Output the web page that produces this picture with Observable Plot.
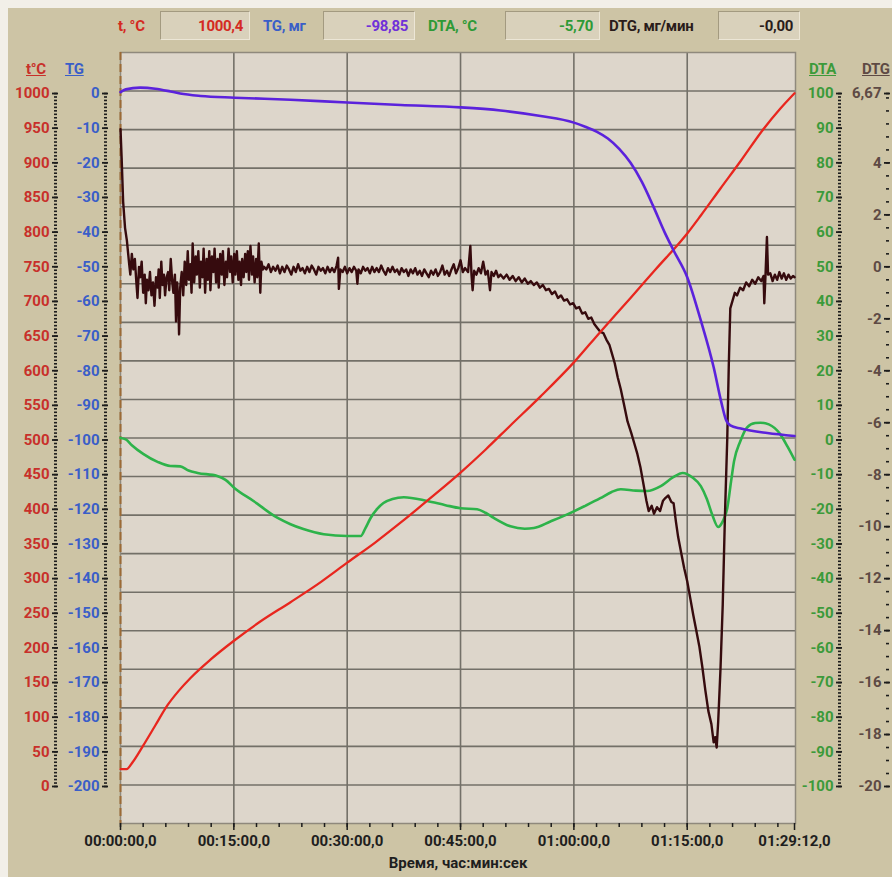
<!DOCTYPE html>
<html><head><meta charset="utf-8">
<script src="https://cdn.jsdelivr.net/npm/d3@7"></script>
<script src="https://cdn.jsdelivr.net/npm/@observablehq/plot@0.6"></script>
<style>
body{margin:0;background:#f2efe8;width:892px;height:877px;overflow:hidden;font-family:Roboto,"Open Sans",sans-serif;position:relative;}
#panel{position:absolute;left:8px;top:8px;width:884px;height:869px;background:#cdc4a5;}
#chart{position:absolute;left:0;top:52px;}
.hdr{position:absolute;top:12px;height:28px;line-height:28px;font-weight:bold;font-size:15px;letter-spacing:-0.3px;}
.box{position:absolute;top:11px;height:29px;line-height:29px;background:#d9d1bb;border:1px solid;border-color:#a39a80 #ece6d6 #ece6d6 #a39a80;text-align:right;padding-right:6px;box-sizing:border-box;font-weight:bold;font-size:15px;letter-spacing:-0.3px;}
.ax{position:absolute;top:60px;font-weight:bold;font-size:15px;text-decoration:underline;letter-spacing:-0.3px;}
</style></head>
<body>
<div id="panel"></div>
<div class="hdr" style="left:118px;color:#d42a22">t, °C</div>
<div class="box" style="left:160px;width:90px;color:#d42a22">1000,4</div>
<div class="hdr" style="left:263px;color:#3a5ec8">TG, мг</div>
<div class="box" style="left:323px;width:92px;color:#7030d8">-98,85</div>
<div class="hdr" style="left:428px;color:#2e9a36">DTA, °C</div>
<div class="box" style="left:505px;width:95px;color:#2e9a36">-5,70</div>
<div class="hdr" style="left:609px;color:#2a1c1a">DTG, мг/мин</div>
<div class="box" style="left:718px;width:82px;color:#2a1c1a">-0,00</div>
<div class="ax" style="left:26px;color:#c8302a">t°C</div>
<div class="ax" style="left:65px;color:#3a5ec8">TG</div>
<div class="ax" style="left:809px;color:#3c9a3a">DTA</div>
<div class="ax" style="left:862px;color:#5e4a44">DTG</div>
<div id="chart"></div>
<script>
// ---- data (time in minutes) ----
const xTickValues=[0,15,30,45,60,75,89.2];
const xTickLabels=["00:00:00,0","00:15:00,0","00:30:00,0","00:45:00,0","01:00:00,0","01:15:00,0","01:29:12,0"];
const tempTicks=d3.range(0,1001,50);
const tgTicks=d3.range(-200,1,10);
const dtaTicks=d3.range(-100,101,10);
const dtgTicks=[-20,-18,-16,-14,-12,-10,-8,-6,-4,-2,0,2,4,6.67];

const tempSeries=[[0,25],[0.8,25],[1.6,35],[3.0,59],[4.6,88],[6.2,117],[7.7,138],[9.3,157],[11.9,183],[15.1,211],[18.5,238],[22.5,266],[26.5,295],[30.0,323],[33.7,352],[37.1,381],[41.0,416],[45.0,453],[48.3,486],[51.6,521],[55.6,563],[60.0,612],[63.5,656],[67.5,705],[70.8,746],[75.0,798],[76.8,824],[79.4,863],[82.1,903],[84.9,946],[87.3,978],[89.2,1000.4]];

const tgSeries=[[0,0.4],[0.7,1.2],[2.6,1.7],[4.6,1.4],[6.6,0.6],[7.9,0.0],[10.6,-0.7],[15.1,-1.2],[22.5,-1.8],[30.0,-2.6],[37.1,-3.3],[45.0,-4.0],[50.3,-4.9],[55.6,-6.5],[60.0,-8.4],[61.5,-9.6],[63.0,-11.0],[64.5,-13.0],[66.0,-16.0],[67.5,-20.0],[69.0,-25.5],[70.5,-32.5],[72.0,-40.0],[73.2,-45.3],[75.0,-53],[76.8,-65.5],[78.5,-79],[79.5,-89],[80.1,-94.0],[80.7,-95.8],[82.1,-96.7],[85.6,-98],[89.2,-98.85]];

const dtaSeries=[[0,0.6],[0.7,0.2],[1.5,-1.5],[3.0,-4],[4.9,-6.3],[6.6,-7.5],[7.9,-7.6],[9.0,-8.8],[10.2,-9.5],[12.8,-10.4],[13.9,-11.5],[15.1,-13.9],[17.6,-17.6],[20.8,-22.5],[22.5,-24.3],[24.2,-25.7],[26.9,-27.2],[30.0,-27.7],[31.8,-27.7],[32.4,-25.5],[33.1,-22.5],[34.0,-19.8],[34.8,-18.2],[36.0,-17.0],[37.5,-16.5],[40.6,-17.6],[43.0,-18.8],[45.0,-19.7],[47.2,-20.0],[48.3,-21.0],[49.4,-22.5],[51.6,-24.9],[53.5,-25.6],[54.7,-25.4],[56.9,-23.5],[59.2,-21.4],[61.5,-19.0],[63.5,-16.8],[65.0,-15.0],[66.2,-14.2],[68.2,-14.6],[69.7,-14.7],[71.5,-13.3],[73.1,-10.8],[74.4,-9.5],[75.7,-10.8],[76.8,-13.3],[77.6,-17.0],[78.3,-21.5],[79.1,-25.1],[79.7,-23.5],[80.3,-19.7],[80.8,-12.0],[81.2,-6.1],[82.0,-0.5],[82.9,3.6],[84.0,4.9],[84.7,5.0],[85.8,4.5],[87.3,1.7],[88.3,-2.0],[89.2,-5.7]];

const dtgSeries=[[0,5.3],[0.15,4.2],[0.35,2.5],[0.6,1.5],[0.85,1.0],[1.0,0.55],[1.15,0.1],
[1.3,-0.3],[1.5,0.5],[1.7,-0.1],[1.9,0.3],[2.1,-0.6],[2.25,-1.2],[2.45,0.0],[2.6,-0.4],[2.8,0.2],[3.0,-1.0],[3.2,-0.3],[3.35,-1.4],[3.5,-0.5],[3.7,-0.9],[3.9,-0.2],[4.1,-1.1],[4.3,-0.6],[4.5,-1.5],[4.7,-0.4],[4.9,-0.8],[5.05,-0.1],[5.2,-1.2],[5.4,0.2],[5.55,-0.7],[5.75,-0.3],[5.9,-1.1],[6.1,-0.4],[6.3,-0.2],[6.45,-0.9],[6.65,0.3],[6.85,-0.6],[7.0,-1.0],[7.2,-0.3],[7.35,-2.1],[7.5,-0.6],[7.65,-1.3],[7.75,-2.6],[7.9,-0.8],[8.1,-0.2],[8.3,-1.1],[8.5,0.2],[8.7,-0.7],[8.9,0.6],[9.05,-0.5],[9.25,0.1],[9.4,-1.0],[9.55,0.9],[9.75,-0.6],[9.95,0.4],[10.1,-0.3],[10.3,0.6],[10.5,-0.8],[10.65,0.2],[10.85,-0.4],[11.0,0.7],[11.2,-1.0],[11.4,0.3],[11.55,-0.5],[11.75,0.6],[11.9,-0.9],[12.1,0.4],[12.3,-0.2],[12.45,0.7],[12.65,-0.6],[12.85,0.3],[13.0,-0.8],[13.2,0.5],[13.4,-0.3],[13.55,0.6],[13.75,-0.7],[13.95,0.2],[14.1,-0.4],[14.3,0.7],[14.5,-0.2],[14.65,0.4],[14.85,-0.6],[15.05,0.5],[15.2,-0.3],[15.4,0.6],[15.6,-0.5],[15.75,0.2],[15.95,-0.7],[16.1,0.3],[16.3,-0.4],[16.5,0.5],[16.65,-0.2],[16.85,0.6],[17.0,-0.5],[17.2,0.8],[17.4,-0.3],[17.55,0.4],[17.75,-0.6],[17.95,0.3],[18.1,-0.4],[18.3,0.9],[18.5,-1.0],[18.65,0.2],[18.85,-0.1],[19.0,0.0],
[19.3,-0.1],[19.6,0.1],[19.9,-0.2],[20.2,0.0],[20.5,-0.15],[20.8,0.05],[21.1,-0.25],[21.4,0.0],[21.7,-0.2],[22.0,0.05],[22.3,-0.1],[22.6,-0.3],[22.9,0.0],[23.2,-0.2],[23.5,0.1],[23.8,-0.15],[24.1,-0.05],[24.4,-0.25],[24.7,0.0],[25.0,-0.2],[25.3,0.05],[25.6,-0.1],[25.9,-0.3],[26.2,0.0],[26.5,-0.15],[26.8,-0.05],[27.1,-0.25],[27.4,0.0],[27.7,-0.2],[28.0,-0.05],[28.3,-0.2],[28.6,0.05],[28.8,0.35],[28.9,-0.85],[29.1,-0.1],[29.4,-0.2],[29.7,0.0],[30.0,-0.25],[30.3,-0.05],[30.6,-0.2],[30.9,0.0],[31.2,-0.15],[31.35,-0.65],[31.5,-0.1],[31.8,-0.25],[32.1,0.0],[32.4,-0.15],[32.7,-0.05],[33.0,-0.25],[33.3,0.0],[33.6,-0.2],[33.9,-0.05],[34.2,-0.2],[34.5,0.05],[34.8,-0.15],[35.1,-0.3],[35.4,-0.05],[35.7,-0.2],[36.0,0.0],[36.3,-0.2],[36.6,-0.1],[36.9,-0.3],[37.2,-0.05],[37.5,-0.2],[37.8,-0.1],[38.1,-0.35],[38.4,-0.1],[38.7,-0.25],[39.0,-0.05],[39.3,-0.3],[39.6,-0.15],[39.9,-0.35],[40.2,-0.1],[40.5,-0.25],[40.8,-0.4],[41.1,-0.15],[41.4,-0.3],[41.7,-0.1],[42.0,-0.35],[42.3,-0.2],[42.6,0.05],[42.9,-0.3],[43.2,-0.15],[43.5,-0.35],[43.8,-0.1],[44.1,0.1],[44.4,-0.25],[44.7,-0.05],[45.0,0.25],[45.3,-0.2],[45.6,-0.05],[46.0,-0.2],[46.3,0.8],[46.45,-0.3],[46.6,-0.9],[46.8,-0.15],[47.1,-0.3],[47.4,-0.05],[47.7,-0.25],[48.0,0.2],[48.3,-0.3],[48.6,-0.15],[48.9,-0.9],[49.1,-0.2],[49.4,-0.35],[49.7,-0.15],[50.0,-0.4],[50.3,-0.3],
[50.7,-0.45],[51.1,-0.3],[51.5,-0.5],[51.9,-0.35],[52.3,-0.55],[52.7,-0.4],[53.1,-0.6],[53.5,-0.45],[53.9,-0.65],[54.3,-0.55],[54.7,-0.7],[55.1,-0.6],[55.5,-0.8],[55.9,-0.7],[56.3,-0.9],[56.7,-0.85],[57.1,-1.05],[57.5,-0.95],[57.9,-1.2],[58.3,-1.1],[58.7,-1.3],[59.1,-1.25],[59.5,-1.45],[59.9,-1.4],[60.3,-1.6],[60.7,-1.55],[61.1,-1.8],[61.5,-1.75],[61.9,-2.0],[62.3,-1.95],[62.7,-2.2],[63.1,-2.35],[63.5,-2.5],[63.9,-2.55],[64.3,-2.8],[64.7,-3.0],[65.0,-3.3],[65.4,-3.7],[65.8,-4.25],[66.2,-4.7],[66.6,-5.25],[67.1,-5.95],[67.6,-6.4],[68.0,-6.8],[68.4,-7.2],[68.8,-7.7],[69.2,-8.35],[69.6,-9.0],[69.9,-9.4],[70.3,-9.2],[70.6,-9.5],[71.0,-9.25],[71.4,-9.4],[71.8,-9.0],[72.1,-8.9],[72.5,-8.8],[72.9,-9.05],[73.2,-9.1],[73.5,-9.8],[73.8,-10.4],[74.2,-11.0],[74.6,-11.6],[75.0,-12.1],[75.4,-12.75],[75.8,-13.4],[76.2,-14.0],[76.6,-14.6],[77.0,-15.4],[77.4,-16.3],[77.8,-17.1],[78.2,-17.6],[78.5,-18.3],[78.7,-18.1],[78.9,-18.5],[79.1,-17.5],[79.4,-15.5],[79.7,-13.0],[80.0,-9.5],[80.3,-6.6],[80.5,-3.8],[80.7,-1.6],[81.0,-1.3],[81.3,-1.0],[81.6,-1.1],[82.0,-0.8],[82.4,-0.9],[82.8,-0.6],[83.2,-0.75],[83.6,-0.5],[84.0,-0.65],[84.4,-0.4],[84.8,-0.55],[85.1,-0.35],[85.2,-1.4],[85.35,-0.4],[85.55,1.15],[85.7,-0.3],[86.0,-0.25],[86.3,-0.55],[86.6,-0.3],[86.9,-0.5],[87.2,-0.2],[87.5,-0.45],[87.8,-0.25],[88.1,-0.5],[88.4,-0.3],[88.7,-0.45],[89.0,-0.35],[89.2,-0.4]];

// ---- scales: everything is drawn on the temperature scale ----
const tgToT=v=>(v+200)*5, tToTg=t=>t/5-200;
const dtaToT=v=>(v+100)*5, tToDta=t=>t/5-100;
const dtgToT=v=>(v+20)*1000/26.67, tToDtg=t=>t*26.67/1000-20;
const yDomain=[-53.4,1059.2];
const xDomain=[0,89.33];
const fmtNum=v=>{const r=Math.round(v*100)/100;return String(r).replace(".",",");};

const font={fontSize:15,fontWeight:"bold"};
function yAxisSet(major,minor,toT,fromT,dx,color){
  return [
    Plot.axisY(minor.map(toT),{anchor:"left",dx:dx-1,tickSize:3,text:null,stroke:"#1c1c1c",strokeWidth:1.6,label:null}),
    Plot.axisY(major.map(toT),{anchor:"left",dx:dx,tickSize:6,text:null,stroke:"#1c1c1c",strokeWidth:1.8,label:null}),
    Plot.axisY(major.map(toT),{anchor:"left",dx:dx,tickSize:0,tickPadding:9,tickFormat:t=>fmtNum(fromT(t)),fill:color,label:null,...font})
  ];
}
const hGrid=d3.range(1,20).map(i=>yDomain[1]-i*(yDomain[1]-yDomain[0])/20);

const chart=Plot.plot({
  width:892,height:825,
  marginLeft:120,marginRight:97,marginTop:0,marginBottom:54,
  x:{domain:xDomain},
  y:{domain:yDomain},
  style:{background:"transparent",fontFamily:"Roboto, 'Open Sans', sans-serif",overflow:"visible"},
  marks:[
    Plot.frame({fill:"#ddd6cb",stroke:"none"}),
    Plot.ruleY(hGrid,{stroke:"#737068",strokeWidth:1.6}),
    Plot.ruleX([15,30,45,60,75],{stroke:"#737068",strokeWidth:1.6}),
    Plot.frame({stroke:"#8f897c",strokeWidth:1.5}),
    Plot.ruleX([0],{stroke:"#9c6a35",strokeWidth:2,strokeDasharray:"8,4"}),
    Plot.line(dtaSeries,{x:d=>d[0],y:d=>dtaToT(d[1]),stroke:"#2db34a",strokeWidth:2.6,curve:"monotone-x"}),
    Plot.line(dtgSeries,{x:d=>d[0],y:d=>dtgToT(d[1]),stroke:"#360b0e",strokeWidth:2.4}),
    Plot.line(tempSeries,{x:d=>d[0],y:d=>d[1],stroke:"#e8261e",strokeWidth:2.3,curve:"monotone-x"}),
    Plot.line(tgSeries,{x:d=>d[0],y:d=>tgToT(d[1]),stroke:"#5b22dc",strokeWidth:2.6,curve:"monotone-x"}),
    ...yAxisSet(tempTicks,d3.range(0,1001,5),t=>t,t=>t,-62,"#c8302a"),
    ...yAxisSet(tgTicks,d3.range(-200,1,1),tgToT,tToTg,-12,"#3a5ec8"),
    ...yAxisSet(dtaTicks,d3.range(-100,101,1),dtaToT,tToDta,722,"#3c9a3a"),
    ...yAxisSet(dtgTicks,d3.range(-20,6.6,0.5).concat([6.67]),dtgToT,tToDtg,770,"#5e4a44"),
    Plot.axisX(d3.range(0,89.2,3),{anchor:"bottom",tickSize:4,text:null,stroke:"#1c1c1c",strokeWidth:1.5,label:null}),
    Plot.axisX(xTickValues,{anchor:"bottom",tickSize:7,tickPadding:5,stroke:"#1c1c1c",strokeWidth:1.5,
      tickFormat:d=>xTickLabels[xTickValues.indexOf(d)],fill:"#1e1e1e",fontSize:15,fontWeight:"bold",label:null}),
    Plot.text(["Время, час:мин:сек"],{frameAnchor:"bottom",dy:44,fontSize:15,fontWeight:"bold",fill:"#1e1e1e"})
  ]
});
document.getElementById("chart").appendChild(chart);
</script>
</body></html>
